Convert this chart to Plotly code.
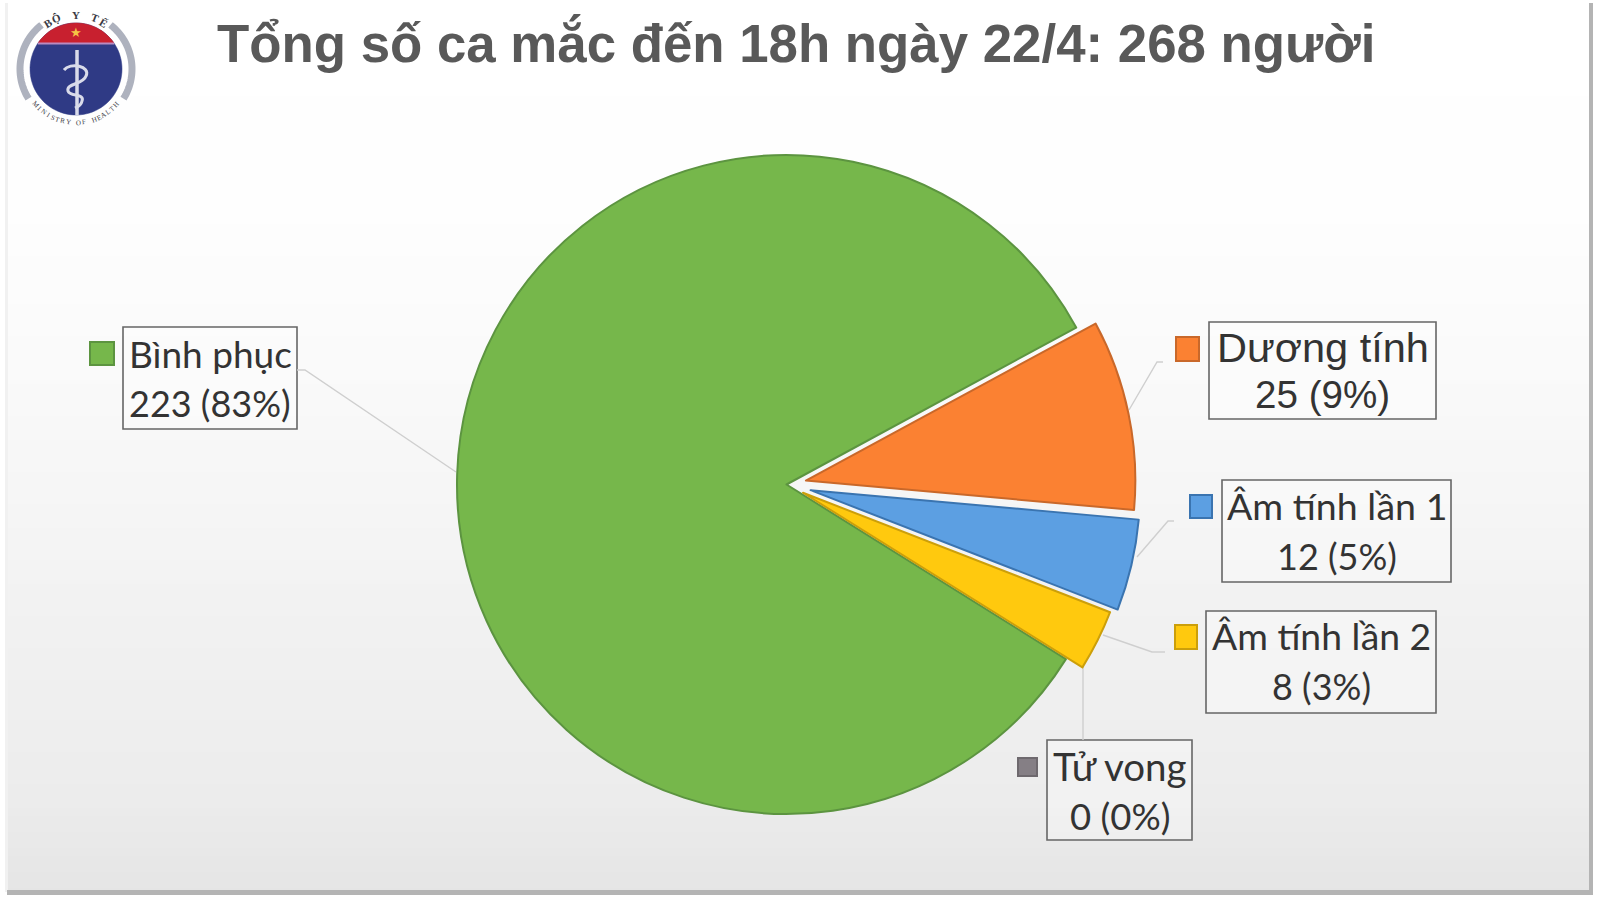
# Pie chart of case status, with hand-drawn label boxes and logo
import numpy as np
import plotly.graph_objects as go

# Data
title_text = 'Tổng số ca mắc đến 18h ngày 22/4: 268 người'
labels = ['Bình phục', 'Dương tính', 'Âm tính lần 1', 'Âm tính lần 2', 'Tử vong']
values = [223, 25, 12, 8, 0]
percents = [83, 9, 5, 3, 0]

# Slice styles
colors = ['#76B74B', '#FB8132', '#5C9FE2', '#FFC90E', '#857F85']
edge_colors = ['#5C9440', '#C9682A', '#3A74B0', '#CC9F0A', '#6E696E']
edge_widths = [2, 2, 2, 2, 0]
pulls = [0, 0.06, 0.075, 0.056, 0.056]

W, H = 1600, 900
PIE_X, PIE_Y, PIE_R = 786.5, 484.5, 329.5


# Everything else is placed in screen pixels, converted to paper coordinates
def px(x):
    return x / W


def py(y):
    return 1 - y / H


def path_of(points, close=False):
    d = 'M ' + ' L '.join(f'{px(x):.5f},{py(y):.5f}' for x, y in points)
    return d + (' Z' if close else '')


def arc_points(cx, cy, r, start_deg, end_deg, n=40):
    angles = np.radians(np.linspace(start_deg, end_deg, n))
    return [(cx + r * np.cos(a), cy - r * np.sin(a)) for a in angles]


fig = go.Figure()

max_pull = max(pulls)
outer = PIE_R * (1 + max_pull)
fig.add_trace(go.Pie(
    labels=labels,
    values=values,
    sort=False,
    direction='clockwise',
    rotation=122,
    pull=pulls,
    textinfo='none',
    hoverinfo='label+value+percent',
    showlegend=False,
    marker=dict(colors=colors, line=dict(color=edge_colors, width=edge_widths)),
    domain=dict(x=[px(PIE_X - outer), px(PIE_X + outer)],
                y=[py(PIE_Y + outer), py(PIE_Y - outer)]),
))

shapes = []
annotations = []


def rect(x0, y0, x1, y1, fill=None, line=None, width=1, layer='below'):
    shapes.append(dict(type='rect', xref='paper', yref='paper', layer=layer,
                       x0=px(x0), x1=px(x1), y0=py(y0), y1=py(y1),
                       fillcolor=fill if fill else 'rgba(0,0,0,0)',
                       line=dict(color=line if line else 'rgba(0,0,0,0)', width=width)))


def line(points, color, width, layer='above', close=False, fill=None):
    shapes.append(dict(type='path', xref='paper', yref='paper', layer=layer,
                       path=path_of(points, close),
                       fillcolor=fill if fill else 'rgba(0,0,0,0)',
                       line=dict(color=color, width=width)))


def text(x, y, s, size, color='#333333', family='Lato', angle=0, bold=False):
    annotations.append(dict(xref='paper', yref='paper', x=px(x), y=py(y),
                            xanchor='center', yanchor='middle', showarrow=False,
                            text=f'<b>{s}</b>' if bold else s, textangle=angle,
                            font=dict(size=size, color=color, family=family)))


# Background fade, white at the top to light grey at the bottom
stops_y = [0, 200, 400, 600, 800, 892]
stops_v = [255, 254, 249, 242, 236, 229]
y_edges = np.arange(0, 893, 8)
for y0 in y_edges:
    v = int(round(np.interp(y0 + 4, stops_y, stops_v)))
    rect(7, y0, 1590, min(y0 + 8, 892), fill=f'rgb({v},{v},{v})')

# Picture frame
rect(5, 3, 8, 892, fill='#F1F1F1')
rect(1589, 3, 1593, 895, fill='#B4B4B4')
rect(7, 890, 1593, 895, fill='#B4B4B4')

# Title
text(796, 43, title_text, 52.8, color='#595959', family='Liberation Sans', bold=True)

# Label boxes, markers, leader lines (same order as labels)
boxes = [(123, 327, 297, 429), (1209, 322, 1436, 419), (1222, 480, 1451, 582),
         (1206, 611, 1436, 713), (1047, 740, 1192, 840)]
markers = [(90, 342, 114, 365), (1176, 337, 1199, 361), (1190, 495, 1212, 518),
           (1175, 625, 1197, 649), (1018, 758, 1037, 776)]
leaders = [[(297, 370), (305, 370), (456, 472)],
           [(1129, 410), (1157, 362), (1163, 362)],
           [(1137, 557), (1168, 521), (1174, 521)],
           [(1103, 635), (1152, 652), (1165, 652)],
           [(1083, 664), (1083, 740)]]
line_y = [(353, 403), (347, 394), (505, 556), (635, 686), (766, 816)]
name_sizes = [37, 41.5, 37.5, 37.3, 38.5]
value_sizes = [36, 38.6, 36, 36, 36.5]
label_fonts = ['Lato', 'Liberation Sans', 'Lato', 'Lato', 'Lato']

for i, name in enumerate(labels):
    bx0, by0, bx1, by1 = boxes[i]
    rect(bx0, by0, bx1, by1, fill='rgba(255,255,255,0.3)', line='#666666', width=1.6)
    mx0, my0, mx1, my1 = markers[i]
    rect(mx0, my0, mx1, my1, fill=colors[i], line=edge_colors[i], width=2)
    line(leaders[i], '#CFCFCF', 1.4, layer='below')
    cx = (bx0 + bx1) / 2
    text(cx, line_y[i][0], name, name_sizes[i], family=label_fonts[i])
    text(cx, line_y[i][1], f'{values[i]} ({percents[i]}%)', value_sizes[i], family=label_fonts[i])

# Ministry logo
LOGO_X, LOGO_Y, LOGO_R = 76, 69, 46
line(arc_points(LOGO_X, LOGO_Y, 56, 128, 212), '#AEB2BE', 7)
line(arc_points(LOGO_X, LOGO_Y, 56, 52, -32), '#AEB2BE', 7)
line(arc_points(LOGO_X, LOGO_Y, LOGO_R, 0, 360, 90), '#2F3A85', 0.5, close=True, fill='#2F3A85')
seg_deg = np.degrees(np.arcsin(26 / LOGO_R))
line(arc_points(LOGO_X, LOGO_Y, LOGO_R, seg_deg, 180 - seg_deg), '#C8202F', 0.5, close=True, fill='#C8202F')
line([(LOGO_X - 38, 43.5), (LOGO_X + 38, 43.5)], '#B98AC0', 2)
text(LOGO_X, 32, '★', 13, color='#F6C445', family='DejaVu Sans')
line([(77, 50), (77, 115)], '#D9DBEA', 3.5)
shapes.append(dict(type='path', xref='paper', yref='paper', layer='above',
                   path=('M {} C {} {} {} C {} {} {} C {} {} {} C {} {} {}'.format(
                       *[f'{px(x):.5f},{py(y):.5f}' for x, y in [
                           (64, 70), (70, 62), (91, 66), (86, 76),
                           (83, 85), (66, 83), (68, 91),
                           (70, 97), (85, 93), (82, 101),
                           (81, 106), (77, 107), (75, 108)]])),
                   line=dict(color='#D9DBEA', width=3)))

top_letters = list('BỘ Y TẾ')
for ch, a in zip(top_letters, np.linspace(121, 59, len(top_letters))):
    x, y = arc_points(LOGO_X, LOGO_Y, 54, a, a, 1)[0]
    text(x, y, ch, 11, color='#3A3A44', family='Liberation Serif', angle=90 - a, bold=True)

bottom_letters = list('MINISTRY OF HEALTH')
for ch, a in zip(bottom_letters, np.linspace(222, 318, len(bottom_letters))):
    x, y = arc_points(LOGO_X, LOGO_Y, 54, a, a, 1)[0]
    text(x, y, ch, 7, color='#3A3A44', family='Liberation Serif', angle=270 - a)

fig.update_layout(
    width=W,
    height=H,
    margin=dict(l=0, r=0, t=0, b=0),
    paper_bgcolor='#FFFFFF',
    shapes=shapes,
    annotations=annotations,
)

# Browser default body margin would push the figure 8px down and right
fig.write_html('out.html', config=dict(displayModeBar=False),
               post_script="document.body.style.margin = '0';")
